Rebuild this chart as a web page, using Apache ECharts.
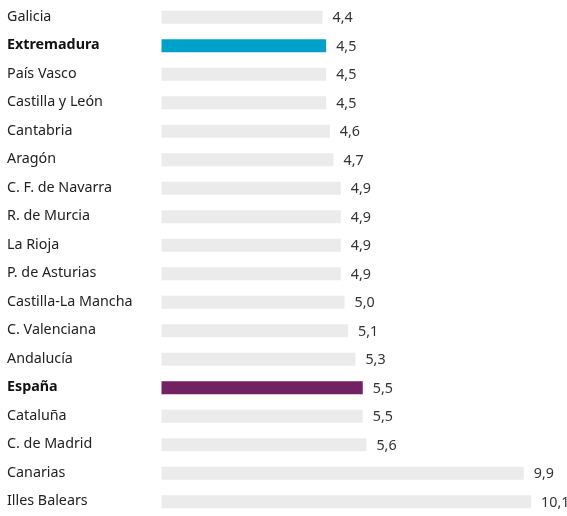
<!DOCTYPE html>
<html>
<head>
<meta charset="utf-8">
<script src="https://cdn.jsdelivr.net/npm/echarts@6/dist/echarts.min.js"></script>
<style>
  html, body { margin: 0; padding: 0; background: #fff; }
  #chart { width: 567px; height: 516px; }
</style>
</head>
<body>
<div id="chart"></div>
<script>
const regions = [
  'Galicia', 'Extremadura', 'País Vasco', 'Castilla y León', 'Cantabria',
  'Aragón', 'C. F. de Navarra', 'R. de Murcia', 'La Rioja', 'P. de Asturias',
  'Castilla-La Mancha', 'C. Valenciana', 'Andalucía', 'España', 'Cataluña',
  'C. de Madrid', 'Canarias', 'Illes Balears'
]
const values = [4.4, 4.5, 4.5, 4.5, 4.6, 4.7, 4.9, 4.9, 4.9, 4.9, 5.0, 5.1, 5.3, 5.5, 5.5, 5.6, 9.9, 10.1]
// destacados
const highlight = { 'Extremadura': '#00a1c9', 'España': '#722262' }

const chart = echarts.init(document.getElementById('chart'))

const seriesData = values.map((v, i) => ({
  value: v,
  itemStyle: { color: highlight[regions[i]] || '#ebebeb' }
}))

chart.setOption({
  animation: false,
  grid: { left: 161.5, right: 3, top: 3, height: 513.5 },
  xAxis: {
    type: 'value',
    min: 0,
    max: 11,
    show: false
  },
  yAxis: {
    type: 'category',
    inverse: true,
    data: regions,
    axisLine: { show: false },
    axisTick: { show: false },
    axisLabel: {
      align: 'left',
      margin: 154.5,
      fontFamily: 'Noto Sans',
      fontSize: 14.3,
      color: '#222',
      padding: [0, 0, 1, 0],
      formatter: (name) => highlight[name] ? '{b|' + name + '}' : name,
      rich: {
        b: { fontWeight: 'bold', fontSize: 14.3, fontFamily: 'Noto Sans', color: '#111' }
      }
    }
  },
  series: [
    {
      type: 'bar',
      data: seriesData,
      barWidth: 13,
      label: {
        show: true,
        position: 'right',
        distance: 10,
        offset: [0, 1],
        fontFamily: 'Noto Sans',
        fontSize: 14.3,
        color: '#333',
        formatter: (p) => p.value.toFixed(1).replace('.', ',')
      }
    }
  ]
})
</script>
</body>
</html>
